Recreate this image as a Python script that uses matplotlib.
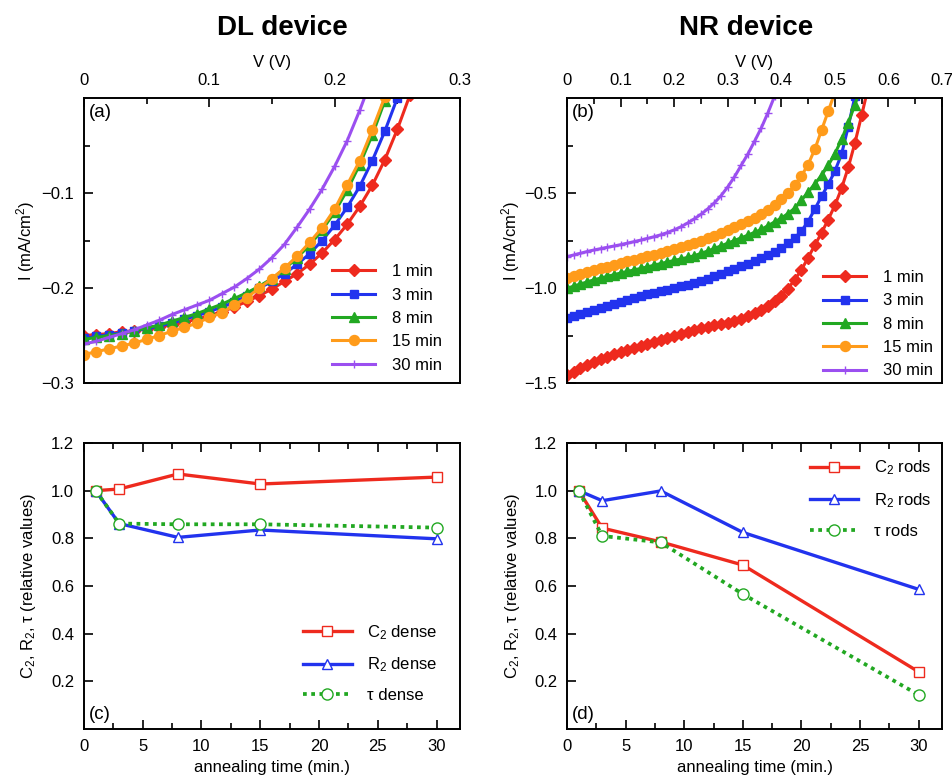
import matplotlib
matplotlib.use("Agg")
import matplotlib.pyplot as plt
from matplotlib.ticker import MultipleLocator, FixedLocator, FuncFormatter

plt.rcParams.update({
    "font.family": ["Liberation Sans", "DejaVu Sans"],
    "mathtext.fontset": "custom",
    "mathtext.rm": "Liberation Sans",
    "mathtext.it": "Liberation Sans:italic",
    "mathtext.bf": "Liberation Sans:bold",
    "mathtext.default": "regular",
    "axes.linewidth": 1.4,
})

# ---------------- I-V data, DL device ----------------
V_DL = [0.00, 0.01, 0.02, 0.03, 0.04, 0.05, 0.06, 0.07, 0.08, 0.09,
        0.10, 0.11, 0.12, 0.13, 0.14, 0.15, 0.16, 0.17, 0.18, 0.19,
        0.20, 0.21, 0.22, 0.23, 0.24, 0.25, 0.26]
I_DL_1 = [-0.250, -0.249, -0.248, -0.246, -0.245, -0.243, -0.241, -0.239, -0.236, -0.233,
          -0.229, -0.225, -0.220, -0.214, -0.208, -0.201, -0.193, -0.185, -0.175, -0.163,
          -0.149, -0.133, -0.114, -0.092, -0.065, -0.033, 0.003]
I_DL_3 = [-0.253, -0.251, -0.249, -0.247, -0.245, -0.243, -0.240, -0.237, -0.233, -0.229,
          -0.225, -0.220, -0.215, -0.208, -0.200, -0.193, -0.185, -0.175, -0.164, -0.150,
          -0.134, -0.115, -0.093, -0.066, -0.035, 0.000]
I_DL_8 = [-0.254, -0.252, -0.250, -0.248, -0.245, -0.242, -0.239, -0.235, -0.231, -0.227,
          -0.222, -0.217, -0.211, -0.205, -0.198, -0.190, -0.180, -0.168, -0.155, -0.139,
          -0.120, -0.097, -0.070, -0.039, -0.003, 0.035]
I_DL_15 = [-0.270, -0.267, -0.264, -0.261, -0.258, -0.254, -0.250, -0.2455, -0.2415, -0.237,
           -0.231, -0.226, -0.218, -0.210, -0.200, -0.190, -0.179, -0.1665, -0.152, -0.1365,
           -0.117, -0.0915, -0.066, -0.0335, 0.001]
I_DL_30 = [-0.259, -0.256, -0.252, -0.248, -0.244, -0.239, -0.234, -0.228, -0.223, -0.218,
           -0.213, -0.206, -0.199, -0.190, -0.180, -0.168, -0.154, -0.136, -0.117, -0.096,
           -0.072, -0.045, -0.013, 0.022]

# ---------------- I-V data, NR device ----------------
V_NR = [0.0000, 0.0125, 0.0250, 0.0375, 0.0500, 0.0625, 0.0750, 0.0875, 0.1000, 0.1125,
        0.1250, 0.1375, 0.1500, 0.1625, 0.1750, 0.1875, 0.2000, 0.2125, 0.2250, 0.2375,
        0.2500, 0.2625, 0.2750, 0.2875, 0.3000, 0.3125, 0.3250, 0.3375, 0.3500, 0.3625,
        0.3750, 0.3875, 0.4000, 0.4125, 0.4250, 0.4375, 0.4500, 0.4625, 0.4750, 0.4875,
        0.5000, 0.5125, 0.5250, 0.5375, 0.5500, 0.5625]
I_NR_1 = [-1.458, -1.440, -1.423, -1.405, -1.388, -1.374, -1.361, -1.349, -1.337, -1.325,
          -1.314, -1.303, -1.293, -1.283, -1.273, -1.263, -1.253, -1.242, -1.231, -1.221,
          -1.212, -1.204, -1.197, -1.190, -1.183, -1.173, -1.161, -1.148, -1.133, -1.116,
          -1.095, -1.070, -1.040, -1.003, -0.956, -0.905, -0.840, -0.775, -0.710, -0.640,
          -0.565, -0.475, -0.365, -0.235, -0.090, 0.060]
I_NR_3 = [-1.160, -1.148, -1.137, -1.126, -1.115, -1.104, -1.093, -1.083, -1.072, -1.062,
          -1.052, -1.043, -1.034, -1.026, -1.018, -1.009, -1.000, -0.991, -0.982, -0.974,
          -0.962, -0.950, -0.938, -0.925, -0.912, -0.899, -0.886, -0.872, -0.858, -0.843,
          -0.826, -0.808, -0.788, -0.765, -0.737, -0.700, -0.650, -0.585, -0.518, -0.455,
          -0.385, -0.295, -0.150, 0.010]
I_NR_8 = [-1.002, -0.990, -0.979, -0.968, -0.957, -0.948, -0.939, -0.930, -0.921, -0.913,
          -0.905, -0.897, -0.889, -0.880, -0.871, -0.863, -0.855, -0.847, -0.839, -0.830,
          -0.818, -0.805, -0.792, -0.778, -0.764, -0.750, -0.736, -0.722, -0.707, -0.692,
          -0.672, -0.652, -0.632, -0.608, -0.580, -0.538, -0.495, -0.452, -0.407, -0.355,
          -0.293, -0.218, -0.130, -0.035, 0.070]
I_NR_15 = [-0.949, -0.938, -0.927, -0.916, -0.905, -0.896, -0.887, -0.878, -0.869, -0.860,
           -0.851, -0.842, -0.834, -0.825, -0.817, -0.807, -0.797, -0.786, -0.775, -0.764,
           -0.752, -0.739, -0.725, -0.710, -0.694, -0.680, -0.665, -0.649, -0.631, -0.611,
           -0.588, -0.562, -0.532, -0.498, -0.458, -0.410, -0.350, -0.270, -0.170, -0.070,
           0.030]
I_NR_30 = [-0.835, -0.826, -0.817, -0.808, -0.800, -0.793, -0.786, -0.779, -0.772, -0.764,
           -0.756, -0.748, -0.739, -0.730, -0.720, -0.708, -0.694, -0.678, -0.658, -0.636,
           -0.612, -0.584, -0.552, -0.514, -0.468, -0.415, -0.355, -0.295, -0.228, -0.158,
           -0.078, 0.010]

IV_LABELS = ["1 min", "3 min", "8 min", "15 min", "30 min"]

# ---------------- relative fit parameters vs annealing time ----------------
t_anneal = [1, 3, 8, 15, 30]
C2_dense = [1.00, 1.007, 1.070, 1.028, 1.057]
R2_dense = [1.00, 0.862, 0.804, 0.835, 0.798]
tau_dense = [1.00, 0.862, 0.859, 0.859, 0.845]
C2_rods = [1.00, 0.843, 0.785, 0.688, 0.240]
R2_rods = [1.00, 0.958, 0.999, 0.825, 0.586]
tau_rods = [1.00, 0.810, 0.783, 0.566, 0.143]

RED = "#ee2a1e"
BLUE = "#2233ee"
GREEN = "#22a822"
ORANGE = "#ff9b1a"
PURPLE = "#9b4ff0"

IV_STYLES = [
    dict(color=RED, marker="D", ms=6.3),
    dict(color=BLUE, marker="s", ms=6.2),
    dict(color=GREEN, marker="^", ms=6.5),
    dict(color=ORANGE, marker="o", ms=7.2),
    dict(color=PURPLE, marker="+", ms=5.5, mew=1.0),
]

FS = 12

fig = plt.figure(figsize=(9.53, 7.79), dpi=100)
ax_a = fig.add_axes([0.0881, 0.5083, 0.3946, 0.3659])
ax_b = fig.add_axes([0.5950, 0.5083, 0.3935, 0.3659])
ax_c = fig.add_axes([0.0881, 0.0642, 0.3946, 0.3671])
ax_d = fig.add_axes([0.5950, 0.0642, 0.3935, 0.3671])


def num_fmt(decimals):
    def f(x, pos):
        if abs(x) < 1e-9:
            return "0"
        s = f"{x:.{decimals}f}"
        return s.replace("-", "\u2212")
    return FuncFormatter(f)


def style_iv(ax, xmax, ymin, yticks, yminor, ydec, label_x):
    ax.set_xlim(0, xmax)
    ax.set_ylim(ymin, 0)
    ax.xaxis.tick_top()
    ax.xaxis.set_label_position("top")
    ax.xaxis.set_major_locator(MultipleLocator(0.1))
    ax.xaxis.set_minor_locator(MultipleLocator(0.05))
    ax.xaxis.set_major_formatter(num_fmt(1))
    ax.yaxis.set_major_locator(FixedLocator(yticks))
    ax.yaxis.set_minor_locator(FixedLocator(yminor))
    ax.yaxis.set_major_formatter(num_fmt(ydec))
    ax.tick_params(which="both", direction="in", top=True, bottom=False,
                   left=True, right=False, labelsize=FS, pad=7, width=1.2)
    ax.tick_params(which="major", length=6.5)
    ax.tick_params(which="minor", length=4.5)
    ax.set_xlabel("V (V)", fontsize=FS)
    ax.xaxis.set_label_coords(0.5, 1.107)
    ax.set_ylabel("I (mA/cm$^2$)", fontsize=FS)
    ax.yaxis.set_label_coords(label_x, 0.5)


def style_rel(ax, label_x):
    ax.set_xlim(0, 32)
    ax.set_ylim(0, 1.2)
    ax.xaxis.set_major_locator(MultipleLocator(5))
    ax.xaxis.set_minor_locator(MultipleLocator(2.5))
    ax.yaxis.set_major_locator(FixedLocator([0.2, 0.4, 0.6, 0.8, 1.0, 1.2]))
    ax.yaxis.set_major_formatter(num_fmt(1))
    ax.xaxis.set_major_formatter(num_fmt(0))
    ax.tick_params(which="both", direction="in", top=True, bottom=True,
                   left=True, right=False, labelsize=FS, pad=7, width=1.2)
    ax.tick_params(which="major", length=6.5)
    ax.tick_params(which="minor", length=4.5)
    ax.set_xlabel("annealing time (min.)", fontsize=FS)
    ax.xaxis.set_label_coords(0.5, -0.11)
    ax.set_ylabel("C$_2$, R$_2$, \u03c4 (relative values)", fontsize=FS)
    ax.yaxis.set_label_coords(label_x, 0.5)


# (a) DL device I-V
for I, lab, st in zip([I_DL_1, I_DL_3, I_DL_8, I_DL_15, I_DL_30], IV_LABELS, IV_STYLES):
    ax_a.plot(V_DL[:len(I)], I, lw=2.2, label=lab, **st)
style_iv(ax_a, 0.3, -0.3, [-0.3, -0.2, -0.1], [-0.25, -0.15, -0.05], 1, -0.125)
ax_a.legend(loc="upper left", bbox_to_anchor=(0.66, 0.417), frameon=False,
            borderpad=0, borderaxespad=0, handlelength=2.6, handletextpad=1.0,
            labelspacing=0.5, fontsize=FS)
ax_a.text(0.012, 0.95, "(a)", transform=ax_a.transAxes, fontsize=13.5, va="center")

# (b) NR device I-V
for I, lab, st in zip([I_NR_1, I_NR_3, I_NR_8, I_NR_15, I_NR_30], IV_LABELS, IV_STYLES):
    ax_b.plot(V_NR[:len(I)], I, lw=2.2, label=lab, **st)
style_iv(ax_b, 0.7, -1.5, [-1.5, -1.0, -0.5], [-1.25, -0.75, -0.25], 1, -0.12)
ax_b.legend(loc="upper left", bbox_to_anchor=(0.683, 0.396), frameon=False,
            borderpad=0, borderaxespad=0, handlelength=2.6, handletextpad=1.0,
            labelspacing=0.5, fontsize=FS)
ax_b.text(0.012, 0.95, "(b)", transform=ax_b.transAxes, fontsize=13.5, va="center")


def rel_plot(ax, C2, R2, tau, tag):
    ax.plot(t_anneal, C2, color=RED, lw=2.4, marker="s", ms=7, mfc="white",
            mec=RED, mew=1.0, label=f"C$_2$ {tag}")
    ax.plot(t_anneal, R2, color=BLUE, lw=2.4, marker="^", ms=7, mfc="white",
            mec=BLUE, mew=1.0, label=f"R$_2$ {tag}")
    ax.plot(t_anneal, tau, color=GREEN, lw=2.7, ls=(0, (1, 1.2)), marker="o",
            ms=8, mfc="white", mec=GREEN, mew=1.0, label=f"\u03c4 {tag}")


# (c) dense layer parameters
rel_plot(ax_c, C2_dense, R2_dense, tau_dense, "dense")
style_rel(ax_c, -0.122)
ax_c.legend(loc="upper left", bbox_to_anchor=(0.582, 0.37), frameon=False,
            borderpad=0, borderaxespad=0, handlelength=2.94, handletextpad=0.92,
            labelspacing=0.83, fontsize=FS)
ax_c.text(0.012, 0.05, "(c)", transform=ax_c.transAxes, fontsize=13.5, va="center")

# (d) nanorod parameters
rel_plot(ax_d, C2_rods, R2_rods, tau_rods, "rods")
style_rel(ax_d, -0.12)
ax_d.legend(loc="upper left", bbox_to_anchor=(0.648, 0.945), frameon=False,
            borderpad=0, borderaxespad=0, handlelength=2.85, handletextpad=0.96,
            labelspacing=0.83, fontsize=FS)
ax_d.text(0.012, 0.05, "(d)", transform=ax_d.transAxes, fontsize=13.5, va="center")

fig.text(0.296, 0.964, "DL device", fontsize=20, fontweight="bold",
         ha="center", va="center")
fig.text(0.783, 0.964, "NR device", fontsize=20, fontweight="bold",
         ha="center", va="center")

fig.savefig("out.png", dpi=100)
